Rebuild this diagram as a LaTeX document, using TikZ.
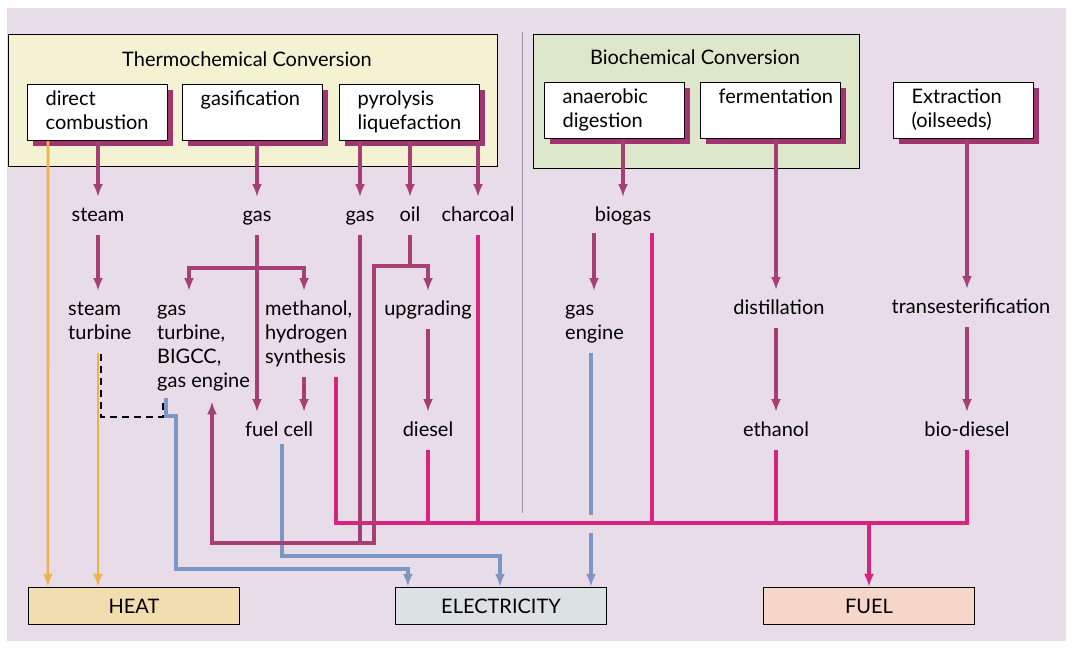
\documentclass[tikz,border=0pt]{standalone}
\usepackage{fontspec}
\setmainfont{Lato}
\usetikzlibrary{arrows.meta,shadows}
\definecolor{bgc}{HTML}{E8DCE9}
\definecolor{thermoc}{HTML}{F3F3D3}
\definecolor{bioc}{HTML}{DCE7CB}
\definecolor{shadowc}{HTML}{A3336E}
\definecolor{arrc}{HTML}{A53F74}
\definecolor{fuelc}{HTML}{D6247F}
\definecolor{elc}{HTML}{7C97C6}
\definecolor{heatc}{HTML}{F0B04A}
\definecolor{heatfill}{HTML}{F2DDB0}
\definecolor{elecfill}{HTML}{DCE2E4}
\definecolor{fuelfill}{HTML}{F5D6C9}
\definecolor{sepc}{HTML}{9C8FA8}
\begin{document}
\begin{tikzpicture}[x=1pt,y=-1pt,
  every node/.style={font=\fontsize{20}{24}\selectfont},
  lbl/.style={inner xsep=1pt, inner ysep=7pt, text height=16.8pt, text depth=7.2pt, anchor=base},
  ml/.style={inner xsep=1pt, inner ysep=7pt, align=left, anchor=north west},
  container/.style={draw=black, line width=1.2pt, anchor=north west, inner sep=0pt},
  subbox/.style={draw=black, line width=1.2pt, fill=white, anchor=north west,
    minimum height=54pt, text width=104pt, inner xsep=18pt, inner ysep=4pt, align=left,
    drop shadow={shadow xshift=5pt, shadow yshift=-5pt, fill=shadowc, opacity=1}},
  outbox/.style={draw=black, line width=1.2pt, minimum width=211pt, minimum height=37pt, inner sep=0pt},
  tip/.style={-{Latex[length=13pt,width=10pt]}},
  pline/.style={draw=arrc, line width=3.4pt},
  parr/.style={pline, tip},
  fline/.style={draw=fuelc, line width=3.4pt},
  bline/.style={draw=elc, line width=3.2pt},
  barr/.style={bline, tip},
  harr/.style={draw=heatc, line width=2.6pt, tip},
  dline/.style={draw=black, line width=1.8pt, dash pattern=on 7pt off 5pt},
]
\useasboundingbox (0,0) rectangle (1073,649);
\fill[white] (0,0) rectangle (1073,649);
\fill[bgc] (7,8) rectangle (1066,641);

% containers
\node[container, fill=thermoc, minimum width=489pt, minimum height=132pt] (thermo) at (8,34) {};
\node[container, fill=bioc, minimum width=326pt, minimum height=134pt] (bio) at (533,34) {};
\draw[sepc, line width=0.8pt] (522,32) -- (522,513);
\node[anchor=base] (ttl) at (247,66) {Thermochemical Conversion};
\node[anchor=base] (btl) at (695,64) {Biochemical Conversion};

% process boxes
\node[subbox] (dc) at (27,84) {\strut direct\\\strut combustion};
\node[subbox] (gs) at (182,84) {\strut gasification\\\strut};
\node[subbox] (py) at (339,84) {\strut pyrolysis\\\strut liquefaction};
\node[subbox] (ad) at (544,82) {\strut anaerobic\\\strut digestion};
\node[subbox] (fe) at (700,82) {\strut fermentation\\\strut};
\node[subbox] (ex) at (893,82) {\strut Extraction\\\strut (oilseeds)};

% intermediate labels
\node[lbl] (steam) at (98,221) {steam};
\node[lbl] (gas1) at (257,221) {gas};
\node[lbl] (gas2) at (360,221) {gas};
\node[lbl] (oil) at (410,221) {oil};
\node[lbl] (charcoal) at (478,221) {charcoal};
\node[lbl] (biogas) at (623,221) {biogas};
\node[ml] (stt) at (67,291) {\strut steam\\\strut turbine};
\node[ml] (gt) at (156,291) {\strut gas\\turbine,\\BIGCC,\\\strut gas engine};
\node[ml] (mh) at (264,291) {\strut methanol,\\hydrogen\\\strut synthesis};
\node[lbl] (upg) at (428,315) {upgrading};
\node[ml] (ge) at (564,291) {\strut gas\\\strut engine};
\node[lbl] (dist) at (779,314) {distillation};
\node[lbl] (trans) at (971,313) {transesterification};
\node[lbl] (fc) at (279,436) {fuel cell};
\node[lbl] (dsl) at (428,436) {diesel};
\node[lbl] (eth) at (776,436) {ethanol};
\node[lbl] (bd) at (967,436) {bio-diesel};

% outputs
\node[outbox, fill=heatfill] (heat) at (134,606) {HEAT};
\node[outbox, fill=elecfill] (elec) at (501,606) {ELECTRICITY};
\node[outbox, fill=fuelfill] (fuel) at (869,606) {FUEL};

% junction coordinates
\coordinate (gbL) at (189,268);
\coordinate (gbR) at (304,268);
\coordinate (ob) at (410,266);
\coordinate (obL) at (374,266);
\coordinate (obR) at (428,266);
\coordinate (lp) at (374,543);
\coordinate (lpL) at (212,543);
\coordinate (busL) at (336,523);
\coordinate (busR) at (967,523);
\coordinate (gtb) at (166,398);
\coordinate (e2) at (500,556);
\coordinate (gap1) at (591,515);
\coordinate (gap2) at (591,533);
\coordinate (d1) at (101,354);
\coordinate (d2) at (163,417);
\coordinate (d3) at (163,400);
\coordinate (bgR) at (652,233);
\coordinate (bgL) at (594,233);
\coordinate (fcx) at (282,444);
\coordinate (fe1) at (776,0);
\coordinate (ex1) at (967,0);

% heat (yellow)
\draw[harr] ([xshift=21pt]dc.south west) -- ([xshift=20pt]heat.north west);
\draw[harr] (stt.south -| steam) -- (steam |- heat.north);
\draw[dline] (d1) |- (d2) -- (d3);

% fuel (magenta) lines
\draw[fline] (busL |- mh.south) -- (busL) -- (busR) -- (busR |- bd.south);
\draw[fline] (charcoal.south) -- (charcoal |- busL);
\draw[fline] (dsl.south) -- (dsl |- busL);
\draw[fline] (bgR) -- (bgR |- busL);
\draw[fline] (eth.south -| fe1) -- (fe1 |- busL);
\draw[fline, tip] (fuel.north |- busL) -- (fuel.north);

% electricity (blue)
\draw[barr] (gtb) -- ++(0,18) -- ++(10,0) -- ++(0,153) -| ([xshift=13pt]elec.north west);
\draw[barr] (fcx) |- (e2) -- (e2 |- elec.north);
\draw[bline] (gap1 |- ge.south) -- (gap1);
\draw[barr] (gap2) -- (gap2 |- elec.north);

% process arrows (purple)
\draw[parr] (dc.south -| steam) -- (steam.north);
\draw[parr] (steam.south) -- (steam |- stt.north);
\draw[parr] (gs.south -| gas1) -- (gas1.north);
\draw[parr] (gas1.south) -- (gas1 |- fc.north);
\draw[pline, {Latex[length=13pt,width=10pt]}-{Latex[length=13pt,width=10pt]}] (gbL |- gt.north) |- (gbR) -- (gbR |- mh.north);
\draw[parr] (mh.south -| gbR) -- (gbR |- fc.north);
\draw[parr] (py.south -| gas2) -- (gas2.north);
\draw[parr] (py.south -| oil) -- (oil.north);
\draw[parr] (py.south -| charcoal) -- (charcoal.north);
\draw[pline] (oil.south) -- (ob);
\draw[pline] (gas2.south) -- (gas2 |- lp);
\draw[pline, {Latex[length=13pt,width=10pt]}-{Latex[length=13pt,width=10pt]}] (obR |- upg.north) -- (obR) -- (obL) -- (lp) -- (lpL) -- (lpL |- gt.south);
\draw[parr] (upg.south) -- (dsl.north);
\draw[parr] (ad.south -| biogas) -- (biogas.north);
\draw[parr] (bgL) -- (bgL |- ge.north);
\draw[parr] (fe.south -| fe1) -- (fe1 |- dist.north);
\draw[parr] (dist.south -| fe1) -- (fe1 |- eth.north);
\draw[parr] (ex.south -| ex1) -- (ex1 |- trans.north);
\draw[parr] (trans.south -| ex1) -- (ex1 |- bd.north);
\end{tikzpicture}
\end{document}
